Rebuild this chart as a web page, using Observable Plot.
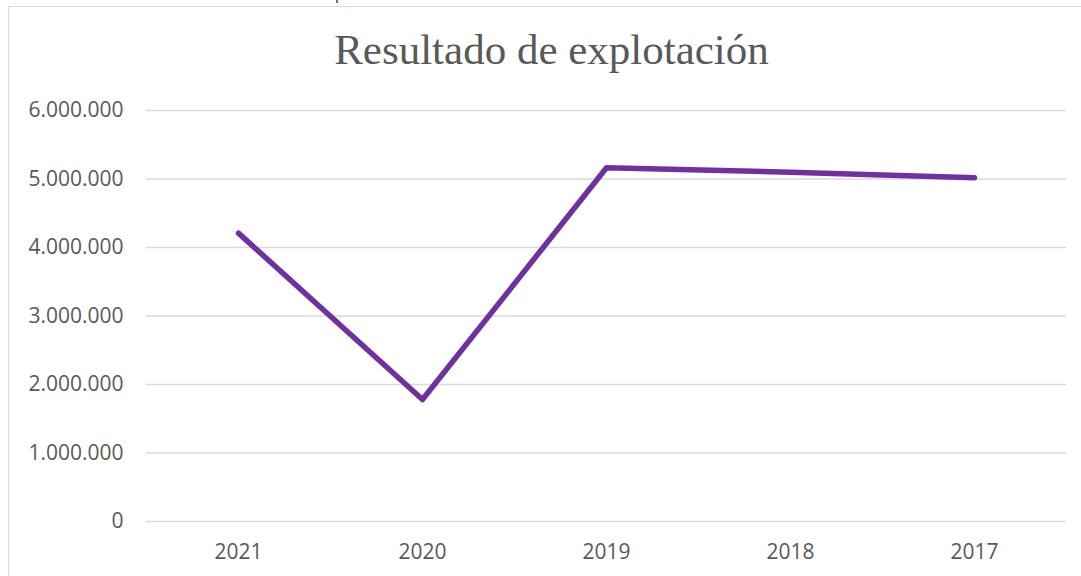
<!DOCTYPE html>
<html>
<head>
<meta charset="utf-8">
<script src="https://cdn.jsdelivr.net/npm/d3@7"></script>
<script src="https://cdn.jsdelivr.net/npm/@observablehq/plot@0.6"></script>
<style>
  html, body { margin: 0; padding: 0; background: #fff; }
  #wrap { position: relative; width: 1081px; height: 576px; overflow: hidden; }
  #border { position: absolute; left: 8px; top: 6px; width: 1200px; height: 700px; border: 1.5px solid #d9d9d9; box-sizing: border-box; }
  #blue { position: absolute; left: 336px; top: 0; width: 2px; height: 3px; background: #4472C4; }
  #title { position: absolute; left: 0; top: 28px; width: 1103px; text-align: center; font-family: "Liberation Serif", "Times New Roman", serif; font-size: 43px; line-height: 43px; color: #595959; }
  #chart { position: absolute; left: 0; top: 0; }
</style>
</head>
<body>
<div id="wrap">
  <div id="border"></div>
  <div id="blue"></div>
  <div id="chart"></div>
  <div id="title">Resultado de explotación</div>
</div>
<script>
const years = ["2021", "2020", "2019", "2018", "2017"];
const values = [4210000, 1780000, 5165000, 5100000, 5020000];
const yTicks = [0, 1000000, 2000000, 3000000, 4000000, 5000000, 6000000];

const data = years.map((year, i) => ({ year, value: values[i] }));
const fmt = d => d3.format(",")(d).replace(/,/g, ".");

const chart = Plot.plot({
  width: 1081,
  height: 576,
  marginLeft: 146,
  marginRight: 15,
  marginTop: 110,
  marginBottom: 55,
  style: { fontFamily: "'Open Sans', sans-serif", fontSize: "21px", color: "#595959", background: "transparent" },
  x: { type: "point", domain: years, padding: 0.5, label: null },
  y: { domain: [0, 6000000], label: null },
  marks: [
    Plot.gridY(yTicks, { stroke: "#d9d9d9", strokeOpacity: 1, strokeWidth: 1.5 }),
    Plot.axisY(yTicks, { tickSize: 0, tickPadding: 23, tickFormat: fmt, fill: "#595959", fontSize: 21, label: null }),
    Plot.axisX({ tickSize: 0, tickPadding: 23, fill: "#595959", fontSize: 21, label: null }),
    Plot.line(data, { x: "year", y: "value", stroke: "#7030A0", strokeWidth: 5.5, strokeLinecap: "round", strokeLinejoin: "round" })
  ]
});
document.getElementById("chart").appendChild(chart);
</script>
</body>
</html>
